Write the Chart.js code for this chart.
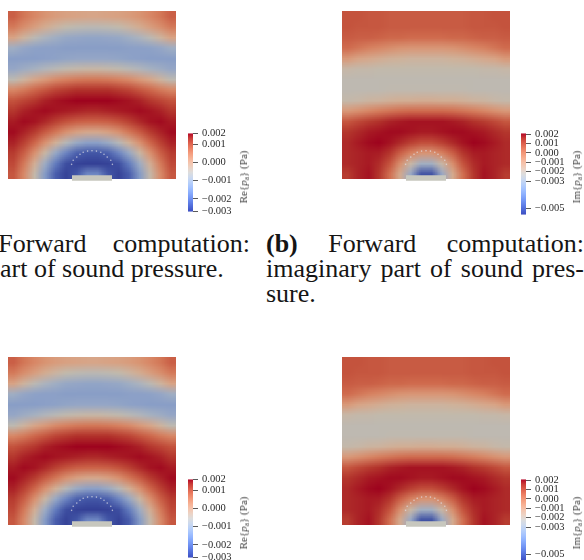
<!DOCTYPE html>
<html>
<head>
<meta charset="utf-8">
<script src="https://cdn.jsdelivr.net/npm/chart.js@4.4.1/dist/chart.umd.min.js"></script>
<style>
  html, body { margin: 0; padding: 0; background: #fff; }
  body { position: relative; width: 584px; height: 560px; overflow: hidden;
         font-family: "Liberation Serif", "DejaVu Serif", serif; color: #151515; }
  canvas { position: absolute; }
  .cbtitle { position: absolute; font-size: 11px; font-weight: normal; white-space: nowrap; color: #444;
             transform: translate(-50%, -50%) rotate(-90deg); }
  .cbtitle sub { font-size: 7.5px; vertical-align: -2px; }
  .line { position: absolute; height: 25px; font-size: 26px; line-height: 25px; white-space: nowrap; }
  .just { white-space: normal; text-align: justify; text-align-last: justify; }
</style>
</head>
<body>
<script>
// Sound pressure fields, in 1e-3 Pa, rows from top to bottom
const reField = [
  [0.91,0.65,0.44,0.27,0.14,0.05,0.01,-0.03,-0.03,0.01,0.05,0.14,0.27,0.44,0.65,0.91],
  [0.61,0.35,0.10,-0.16,-0.38,-0.55,-0.64,-0.68,-0.68,-0.64,-0.55,-0.38,-0.16,0.10,0.35,0.61],
  [0.01,-0.34,-0.68,-0.94,-1.11,-1.24,-1.28,-1.32,-1.32,-1.28,-1.24,-1.11,-0.94,-0.68,-0.34,0.01],
  [-1.11,-1.28,-1.37,-1.41,-1.41,-1.45,-1.45,-1.45,-1.45,-1.45,-1.45,-1.41,-1.41,-1.37,-1.28,-1.11],
  [-1.45,-1.45,-1.45,-1.41,-1.37,-1.32,-1.28,-1.28,-1.28,-1.28,-1.32,-1.37,-1.41,-1.45,-1.45,-1.45],
  [-1.28,-1.15,-1.02,-0.85,-0.72,-0.59,-0.51,-0.46,-0.46,-0.51,-0.59,-0.72,-0.85,-1.02,-1.15,-1.28],
  [-0.64,-0.34,-0.03,0.18,0.40,0.53,0.61,0.65,0.65,0.61,0.53,0.40,0.18,-0.03,-0.34,-0.64],
  [0.44,0.61,0.83,1.00,1.17,1.26,1.34,1.34,1.34,1.34,1.26,1.17,1.00,0.83,0.61,0.44],
  [1.04,1.17,1.30,1.43,1.51,1.56,1.60,1.60,1.60,1.60,1.56,1.51,1.43,1.30,1.17,1.04],
  [1.30,1.43,1.51,1.56,1.51,1.47,1.43,1.39,1.39,1.43,1.47,1.51,1.56,1.51,1.43,1.30],
  [1.47,1.56,1.51,1.39,1.21,1.04,0.91,0.87,0.87,0.91,1.04,1.21,1.39,1.51,1.56,1.47],
  [1.56,1.43,1.26,0.96,0.65,0.31,0.05,-0.08,-0.08,0.05,0.31,0.65,0.96,1.26,1.43,1.56],
  [1.43,1.21,0.83,0.31,-0.25,-0.77,-1.20,-1.41,-1.41,-1.20,-0.77,-0.25,0.31,0.83,1.21,1.43],
  [1.26,0.91,0.31,-0.42,-1.24,-1.84,-2.31,-2.44,-2.44,-2.31,-1.84,-1.24,-0.42,0.31,0.91,1.26],
  [1.13,0.61,-0.21,-1.15,-1.97,-2.53,-2.66,-2.70,-2.70,-2.66,-2.53,-1.97,-1.15,-0.21,0.61,1.13],
  [1.00,0.40,-0.51,-1.50,-2.36,-2.66,-2.44,-1.80,-1.80,-2.44,-2.66,-2.36,-1.50,-0.51,0.40,1.00]
];
const imField = [
  [0.97,0.97,0.88,0.88,0.80,0.80,0.80,0.80,0.80,0.80,0.80,0.80,0.88,0.88,0.97,0.97],
  [0.97,0.88,0.88,0.88,0.80,0.80,0.80,0.80,0.80,0.80,0.80,0.80,0.88,0.88,0.88,0.97],
  [0.80,0.71,0.71,0.63,0.53,0.53,0.45,0.45,0.45,0.45,0.53,0.53,0.63,0.71,0.71,0.80],
  [0.45,0.19,-0.07,-0.24,-0.43,-0.60,-0.68,-0.68,-0.68,-0.68,-0.60,-0.43,-0.24,-0.07,0.19,0.45],
  [-0.78,-1.13,-1.30,-1.47,-1.65,-1.73,-1.82,-1.82,-1.82,-1.82,-1.73,-1.65,-1.47,-1.30,-1.13,-0.78],
  [-2.08,-2.17,-2.17,-2.25,-2.25,-2.25,-2.25,-2.25,-2.25,-2.25,-2.25,-2.25,-2.25,-2.17,-2.17,-2.08],
  [-2.42,-2.42,-2.42,-2.42,-2.42,-2.42,-2.42,-2.42,-2.42,-2.42,-2.42,-2.42,-2.42,-2.42,-2.42,-2.42],
  [-2.42,-2.42,-2.42,-2.42,-2.34,-2.34,-2.34,-2.34,-2.34,-2.34,-2.34,-2.34,-2.42,-2.42,-2.42,-2.42],
  [-2.17,-2.08,-1.90,-1.82,-1.65,-1.55,-1.55,-1.47,-1.47,-1.55,-1.55,-1.65,-1.82,-1.90,-2.08,-2.17],
  [-0.78,-0.51,-0.24,0.01,0.19,0.36,0.45,0.45,0.45,0.45,0.36,0.19,0.01,-0.24,-0.51,-0.78],
  [0.88,1.15,1.40,1.58,1.75,1.85,1.93,1.93,1.93,1.93,1.85,1.75,1.58,1.40,1.15,0.88],
  [1.50,1.67,1.85,1.93,2.02,2.02,1.93,1.85,1.85,1.93,2.02,2.02,1.93,1.85,1.67,1.50],
  [1.67,1.85,2.02,2.10,1.93,1.67,1.32,1.06,1.06,1.32,1.67,1.93,2.10,2.02,1.85,1.67],
  [1.67,1.75,1.85,1.81,1.52,0.71,-0.07,-0.60,-0.60,-0.07,0.71,1.52,1.81,1.85,1.75,1.67],
  [1.67,1.75,1.85,1.64,0.94,-0.43,-2.00,-3.29,-3.29,-2.00,-0.43,0.94,1.64,1.85,1.75,1.67],
  [1.40,1.75,1.93,1.50,0.36,-1.38,-3.64,-6.17,-6.17,-3.64,-1.38,0.36,1.50,1.93,1.75,1.40]
];

// colour bar ranges and ticks (Pa)
const reRange = [-0.0027, 0.0016];
const reTicks = [-0.0027, -0.002, -0.001, 0, 0.001, 0.0016];
const reTickLabels = ['\u22120.003', '\u22120.002', '\u22120.001', '0.000', '0.001', '0.002'];
const imRange = [-0.0066, 0.0021];
const imTicks = [-0.0059, -0.003, -0.002, -0.001, 0, 0.001, 0.002];
const imTickLabels = ['\u22120.005', '\u22120.003', '\u22120.002', '\u22120.001', '0.000', '0.001', '0.002'];

// source (grey bar) and microphone dots, in domain units (half width = 1)
const sourceX = [-0.25, 0.25];
const sourceY = -0.03;
const micX = [-0.255, -0.235, -0.19, -0.15, -0.11, -0.055, 0, 0.055, 0.11, 0.15, 0.19, 0.235, 0.255];
const micY = [0.14, 0.19, 0.23, 0.265, 0.29, 0.305, 0.31, 0.305, 0.29, 0.265, 0.23, 0.19, 0.14];

// Cool to Warm colour map
const cmapStops = [
  [0, 59, 76, 192], [0.0625, 77, 104, 215], [0.125, 98, 130, 234], [0.1875, 119, 154, 247],
  [0.25, 141, 176, 254], [0.3125, 163, 194, 255], [0.375, 184, 208, 249], [0.4375, 204, 217, 238],
  [0.5, 221, 221, 221], [0.5625, 236, 211, 197], [0.625, 245, 196, 173], [0.6875, 247, 177, 148],
  [0.75, 244, 154, 123], [0.8125, 236, 127, 99], [0.875, 222, 96, 77], [0.9375, 203, 62, 56],
  [1, 180, 4, 38]
];
// the rendered field is dimmer and warmer than the bar (surface lighting)
const fieldTint = [0.88, 0.84, 0.78];

function cmap(t, k) {
  t = Math.min(1, Math.max(0, t));
  let i = 0;
  while (i < cmapStops.length - 2 && t > cmapStops[i + 1][0]) i++;
  const a = cmapStops[i], b = cmapStops[i + 1];
  const f = (t - a[0]) / (b[0] - a[0]);
  const c = [1, 2, 3].map(j => Math.round((a[j] + (b[j] - a[j]) * f) * k[j - 1]));
  return `rgb(${c[0]},${c[1]},${c[2]})`;
}

function fieldColor(v, range) {
  return cmap((v * 1e-3 - range[0]) / (range[1] - range[0]), fieldTint);
}

const common = {
  responsive: false,
  devicePixelRatio: 1,
  animation: false,
  events: [],
  plugins: { legend: { display: false }, tooltip: { enabled: false } }
};

function addCanvas(left, top, w, h, cssW, cssH) {
  const c = document.createElement('canvas');
  c.width = w;
  c.height = h;
  c.style.left = left + 'px';
  c.style.top = top + 'px';
  c.style.width = (cssW || w) + 'px';
  c.style.height = (cssH || h) + 'px';
  document.body.appendChild(c);
  return c;
}

// Heat map: one stacked bar per cell, drawn small and scaled up smoothly by the browser
function fieldChart(left, top, grid, range) {
  const rows = grid.slice().reverse();
  const cols = grid[0].length;
  const canvas = addCanvas(left, top, cols, rows.length, 168, 168);
  new Chart(canvas, {
    type: 'bar',
    data: {
      labels: grid[0].map((_, i) => i),
      datasets: rows.map(row => ({
        data: row.map(() => 1),
        backgroundColor: row.map(v => fieldColor(v, range)),
        borderWidth: 0,
        barPercentage: 1,
        categoryPercentage: 1,
        inflateAmount: 0,
        stack: 'field'
      }))
    },
    options: {
      ...common,
      layout: { padding: 0 },
      scales: {
        x: { display: false, stacked: true },
        y: { display: false, stacked: true, min: 0, max: rows.length }
      }
    }
  });
}

// Grey source bar and microphone positions
function overlayChart(left, top) {
  const canvas = addCanvas(left, top, 168, 181);
  new Chart(canvas, {
    type: 'scatter',
    data: {
      datasets: [
        {
          type: 'line',
          data: sourceX.map(x => ({ x, y: sourceY })),
          borderColor: '#c7c7be',
          borderWidth: 5.5,
          borderCapStyle: 'butt',
          pointRadius: 0,
          clip: false
        },
        {
          data: micX.map((x, i) => ({ x, y: micY[i] })),
          pointRadius: 0.8,
          borderWidth: 0,
          backgroundColor: 'rgba(225,225,232,0.7)'
        }
      ]
    },
    options: {
      ...common,
      layout: { padding: 0 },
      scales: {
        x: { type: 'linear', display: false, min: -1, max: 1 },
        y: { type: 'linear', display: false, min: -13 / 84, max: 2 }
      }
    }
  });
}

function colorbarChart(left, barTop, barHeight, range, ticks, labels) {
  const canvas = addCanvas(left, barTop - 10, 50, barHeight + 20);
  new Chart(canvas, {
    type: 'bar',
    data: {
      labels: [''],
      datasets: [{
        data: [[range[0], range[1]]],
        backgroundColor: (ctx) => {
          const area = ctx.chart.chartArea;
          if (!area) return '#ddd';
          const g = ctx.chart.ctx.createLinearGradient(0, area.bottom, 0, area.top);
          cmapStops.forEach(s => g.addColorStop(s[0], `rgb(${s[1]},${s[2]},${s[3]})`));
          return g;
        },
        borderWidth: 0,
        barPercentage: 1,
        categoryPercentage: 1,
        inflateAmount: 0
      }]
    },
    options: {
      ...common,
      layout: { padding: { top: 10, bottom: 10, left: 0, right: 0 } },
      scales: {
        x: { display: false },
        y: {
          position: 'right',
          min: range[0],
          max: range[1],
          afterBuildTicks: (s) => { s.ticks = ticks.map(v => ({ value: v })); },
          afterFit: (s) => { s.width = 45; },
          ticks: {
            autoSkip: false,
            padding: 4,
            color: '#2a2a2a',
            font: { family: '"Liberation Serif", "DejaVu Serif", serif', size: 10.5 },
            callback: (v, i) => labels[i]
          },
          grid: { drawOnChartArea: false, drawTicks: true, tickLength: 5, color: '#5a5a5a' },
          border: { display: false }
        }
      }
    }
  });
}

function addTitle(x, y, html) {
  const d = document.createElement('div');
  d.className = 'cbtitle';
  d.style.left = x + 'px';
  d.style.top = y + 'px';
  d.innerHTML = html;
  document.body.appendChild(d);
}

function addLine(left, baseline, width, html, justify) {
  const d = document.createElement('div');
  d.className = 'line' + (justify ? ' just' : '');
  d.style.left = left + 'px';
  d.style.top = (baseline - 21) + 'px';
  if (width) d.style.width = width + 'px';
  d.innerHTML = html;
  document.body.appendChild(d);
}

const panels = [
  { left: 8, top: 11, field: reField, range: reRange, ticks: reTicks, labels: reTickLabels,
    cbLeft: 188, cbHeight: 79, titleX: 244, title: 'Re{<i>p</i><sub>a</sub>} (Pa)' },
  { left: 342, top: 11, field: imField, range: imRange, ticks: imTicks, labels: imTickLabels,
    cbLeft: 521, cbHeight: 82, titleX: 577, title: 'Im{<i>p</i><sub>a</sub>} (Pa)' },
  { left: 8, top: 357, field: reField, range: reRange, ticks: reTicks, labels: reTickLabels,
    cbLeft: 188, cbHeight: 79, titleX: 244, title: 'Re{<i>p</i><sub>a</sub>} (Pa)' },
  { left: 342, top: 357, field: imField, range: imRange, ticks: imTicks, labels: imTickLabels,
    cbLeft: 521, cbHeight: 82, titleX: 577, title: 'Im{<i>p</i><sub>a</sub>} (Pa)' }
];

panels.forEach(p => {
  fieldChart(p.left, p.top, p.field, p.range);
  overlayChart(p.left, p.top);
  colorbarChart(p.cbLeft, p.top + 122, p.cbHeight, p.range, p.ticks, p.labels);
  addTitle(p.titleX, p.top + 166, p.title);
});

// captions (the left one runs off the page)
const mctx = document.createElement('canvas').getContext('2d');
mctx.font = '26px "Liberation Serif", "DejaVu Serif", serif';
const cut = mctx.measureText('real p').width;
addLine(-cut, 252, 250 + cut, '<b>(a)</b> Forward computation:', true);
addLine(-cut, 277, 0, 'real part of sound pressure.', false);
addLine(266, 252, 318, '<b>(b)</b> Forward computation:', true);
addLine(266, 277, 318, 'imaginary part of sound pres-', true);
addLine(266, 302, 0, 'sure.', false);
</script>
</body>
</html>
